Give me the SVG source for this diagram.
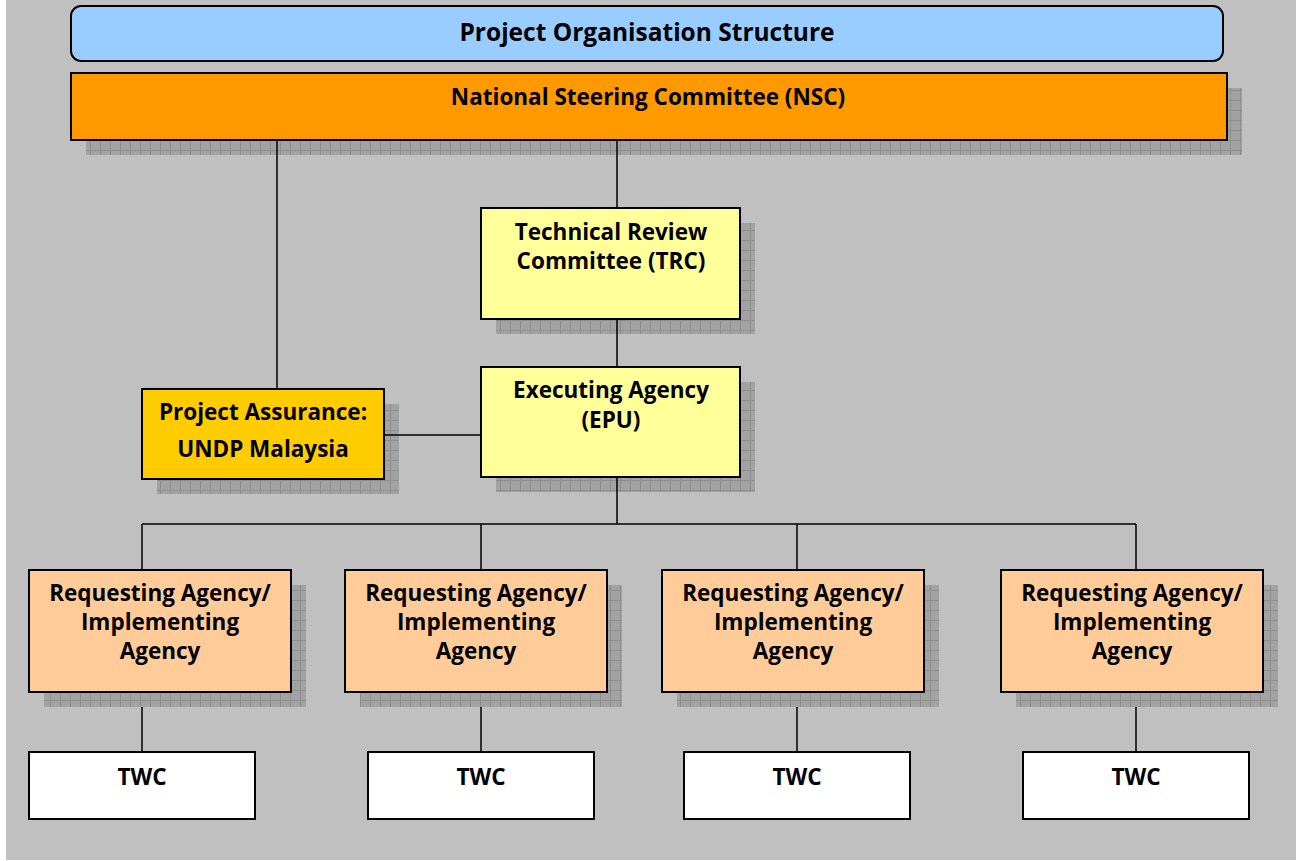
<svg xmlns="http://www.w3.org/2000/svg" width="1303" height="861" viewBox="0 0 1303 861">
<style>
.box{stroke:#000;stroke-width:2}
.t{font-family:"Open Sans","Liberation Sans",sans-serif;font-weight:bold;font-size:22.5px;text-anchor:middle;fill:#000}
.ln{stroke:#000;stroke-width:1.5;fill:none}
.sh{fill:url(#grid)}
</style>
<defs>
<pattern id="grid" x="0" y="0" width="10" height="10" patternUnits="userSpaceOnUse">
<rect width="10" height="10" fill="#a2a2a2"/>
<path d="M0 0.5H10M0.5 0V10" stroke="#8e8e8e" stroke-width="1"/>
</pattern>
</defs>
<rect x="0" y="0" width="1303" height="861" fill="#fff"/>
<rect x="6" y="0" width="1290" height="860" fill="#c0c0c0"/>
<g id="shadows">
<rect class="sh" x="86" y="88" width="1156" height="67"/>
<rect class="sh" x="496" y="223" width="259" height="111"/>
<rect class="sh" x="496" y="382" width="259" height="110"/>
<rect class="sh" x="157" y="404" width="242" height="90"/>
<rect class="sh" x="44" y="585" width="262" height="122"/>
<rect class="sh" x="360" y="585" width="262" height="122"/>
<rect class="sh" x="677" y="585" width="262" height="122"/>
<rect class="sh" x="1016" y="585" width="262" height="122"/>
</g>
<g id="connectors">
<path class="ln" d="M277 140V389"/>
<path class="ln" d="M617 140V208"/>
<path class="ln" d="M617 319V367"/>
<path class="ln" d="M384 435H481"/>
<path class="ln" d="M617 477V524M142 524H1136M142 524V570M481 524V570M797 524V570M1136 524V570"/>
<path class="ln" d="M142 707V752M481 707V752M797 707V752M1136 707V752"/>
</g>
<g id="title">
<rect class="box" x="71" y="6" width="1152" height="55" rx="10" fill="#99ccff"/>
<text class="t" x="647" y="41" style="font-size:24.5px">Project Organisation Structure</text>
</g>
<g id="nsc">
<rect class="box" x="71" y="73" width="1156" height="67" fill="#ff9900"/>
<text class="t" x="648" y="105">National Steering Committee (NSC)</text>
</g>
<g id="trc">
<rect class="box" x="481" y="208" width="259" height="111" fill="#ffff99"/>
<text class="t" x="611" y="240">Technical Review</text>
<text class="t" x="611" y="269">Committee (TRC)</text>
</g>
<g id="epu">
<rect class="box" x="481" y="367" width="259" height="110" fill="#ffff99"/>
<text class="t" x="611" y="398">Executing Agency</text>
<text class="t" x="611" y="428">(EPU)</text>
</g>
<g id="assurance">
<rect class="box" x="142" y="389" width="242" height="90" fill="#ffcc00"/>
<text class="t" x="263" y="420">Project Assurance:</text>
<text class="t" x="263" y="457">UNDP Malaysia</text>
</g>
<g id="ra1">
<rect class="box" x="29" y="570" width="262" height="122" fill="#ffcc99"/>
<text class="t" x="160" y="601">Requesting Agency/</text>
<text class="t" x="160" y="630">Implementing</text>
<text class="t" x="160" y="659">Agency</text>
</g>
<g id="ra2">
<rect class="box" x="345" y="570" width="262" height="122" fill="#ffcc99"/>
<text class="t" x="476" y="601">Requesting Agency/</text>
<text class="t" x="476" y="630">Implementing</text>
<text class="t" x="476" y="659">Agency</text>
</g>
<g id="ra3">
<rect class="box" x="662" y="570" width="262" height="122" fill="#ffcc99"/>
<text class="t" x="793" y="601">Requesting Agency/</text>
<text class="t" x="793" y="630">Implementing</text>
<text class="t" x="793" y="659">Agency</text>
</g>
<g id="ra4">
<rect class="box" x="1001" y="570" width="262" height="122" fill="#ffcc99"/>
<text class="t" x="1132" y="601">Requesting Agency/</text>
<text class="t" x="1132" y="630">Implementing</text>
<text class="t" x="1132" y="659">Agency</text>
</g>
<g id="twc1">
<rect class="box" x="29" y="752" width="226" height="67" fill="#fff"/>
<text class="t" x="142" y="785">TWC</text>
</g>
<g id="twc2">
<rect class="box" x="368" y="752" width="226" height="67" fill="#fff"/>
<text class="t" x="481" y="785">TWC</text>
</g>
<g id="twc3">
<rect class="box" x="684" y="752" width="226" height="67" fill="#fff"/>
<text class="t" x="797" y="785">TWC</text>
</g>
<g id="twc4">
<rect class="box" x="1023" y="752" width="226" height="67" fill="#fff"/>
<text class="t" x="1136" y="785">TWC</text>
</g>
</svg>
